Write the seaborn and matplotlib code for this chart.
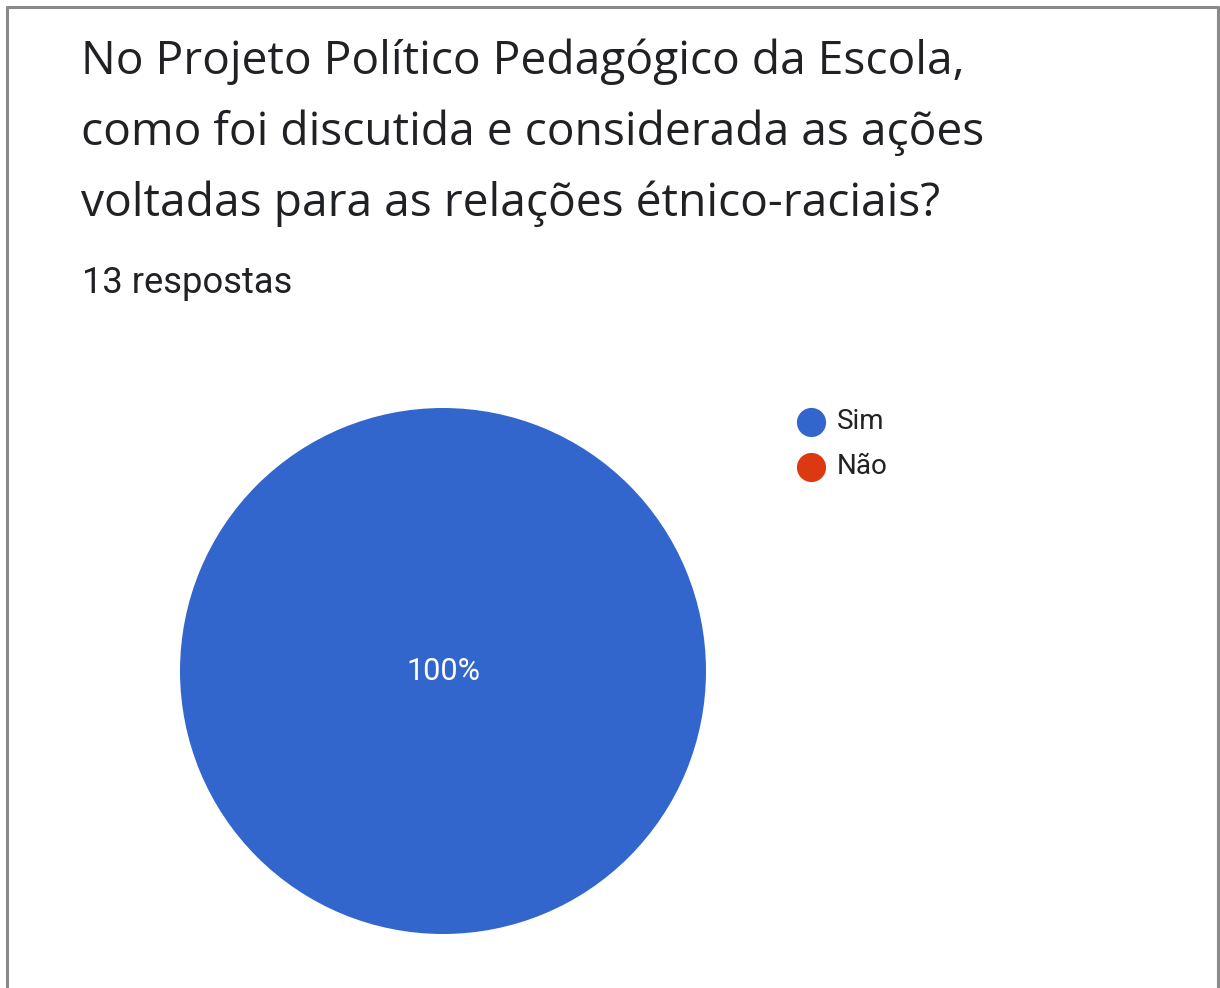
import matplotlib
matplotlib.use("Agg")
import matplotlib.pyplot as plt
from matplotlib.lines import Line2D
import seaborn as sns

# Survey answers
title_lines = [
    "No Projeto Político Pedagógico da Escola,",
    "como foi discutida e considerada as ações",
    "voltadas para as relações étnico-raciais?",
]
subtitle = "13 respostas"
categories = ["Sim", "Não"]
counts = [13, 0]
colors = ["#3366CC", "#DC3912"]

sns.set_theme(style="white")
plt.rcParams["font.family"] = ["Roboto", "DejaVu Sans"]

W, H = 1220, 988
fig = plt.figure(figsize=(W / 100, H / 100), dpi=100)
fig.patch.set_facecolor("white")

def px(x, y):
    return x / W, 1 - y / H

# Card border (left, top, right)
for xs, ys in [((7, 7), (7, H)), ((7, 1218), (7, 7)), ((1218, 1218), (7, H))]:
    fig.add_artist(Line2D([x / W for x in xs], [1 - y / H for y in ys],
                          color="#8a8a8a", lw=2.2, transform=fig.transFigure))

# Title and response count
for i, line in enumerate(title_lines):
    fig.text(*px(81, 74 + i * 71), line, fontsize=33.2, color="#202124",
             family=["Open Sans", "DejaVu Sans"], ha="left", va="baseline")
fig.text(*px(82, 293), subtitle, fontsize=26.2, color="#202124",
         ha="left", va="baseline")

# Pie
r = 263
cx, cy = 443, 671
ax = fig.add_axes([(cx - r) / W, (H - cy - r) / H, 2 * r / W, 2 * r / H])
total = sum(counts)
wedges, _ = ax.pie(counts, colors=colors, startangle=90, counterclock=False,
                   radius=1, wedgeprops=dict(linewidth=0))
for w, c in zip(wedges, counts):
    if c > 0:
        ax.text(0, 0, f"{round(100 * c / total)}%", color="white",
                fontsize=22, ha="center", va="center")
ax.set_xlim(-1, 1)
ax.set_ylim(-1, 1)
ax.set_aspect("equal")
ax.axis("off")

# Legend
for i, (cat, col) in enumerate(zip(categories, colors)):
    ly = 421.5 + i * 45.5
    fig.add_artist(Line2D([810.5 / W], [1 - ly / H], marker="o", markersize=21,
                          color=col, markeredgewidth=0, linestyle="none",
                          transform=fig.transFigure))
    fig.text(*px(837, ly), cat, fontsize=20, color="#222222",
             ha="left", va="center")

fig.savefig("out.png", dpi=100, facecolor="white")
